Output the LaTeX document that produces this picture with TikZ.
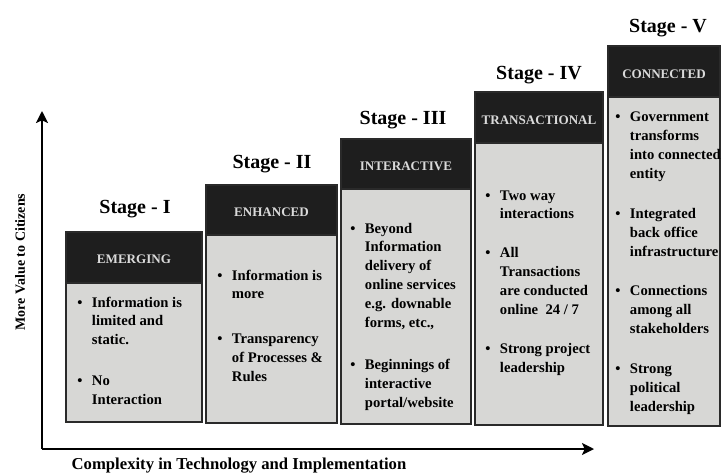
\documentclass[tikz,border=0pt]{standalone}
\usepackage{fontspec}
\setmainfont{Liberation Serif}
\usetikzlibrary{arrows.meta}
\definecolor{hdrfill}{HTML}{1E1E1E}
\definecolor{bodyfill}{HTML}{D7D7D5}
\definecolor{hdrtext}{HTML}{DADADA}
\definecolor{edgecol}{HTML}{2A2A2A}
\newcommand\bpt{\makebox[11pt][l]{\textbullet}}
\begin{document}
\begin{tikzpicture}[x=0.75pt,y=-0.75pt,
  hdrbox/.style={fill=hdrfill, draw=edgecol, line width=1pt},
  bodybox/.style={fill=bodyfill, draw=edgecol, line width=1.2pt},
  hdrtxt/.style={text=hdrtext, font=\fontsize{9.8}{11}\selectfont\bfseries, inner sep=0pt},
  stagetxt/.style={font=\fontsize{15}{17}\selectfont\bfseries, anchor=base, inner sep=0pt},
  bodytxt/.style={font=\fontsize{11}{14.2}\selectfont\bfseries, anchor=base west, inner sep=0pt, align=left},
  axisline/.style={line width=1.5pt, -{Stealth[length=9pt,width=9pt,inset=2pt]}},
  axlab/.style={font=\bfseries, inner sep=0pt}]
\useasboundingbox (0,0) rectangle (723,474);

% Stage I
\draw[bodybox] (66,283) rectangle (202,422);
\draw[hdrbox] (66,232) rectangle (202,283);
\node[hdrtxt] (h1) at (134,259) {EMERGING};
\node[stagetxt] (s1) at (135,213) {Stage - I};
\node[bodytxt] (b1) at (77,307) {\begin{tabular}[t]{@{}l@{}l@{}}
\bpt & Information is\\ & limited and\\ & static.\\[16.5pt]
\bpt & No\\ & Interaction\end{tabular}};

% Stage II
\draw[bodybox] (206,235) rectangle (337,423);
\draw[hdrbox] (206,185) rectangle (337,235);
\node[hdrtxt] (h2) at (271.5,212) {ENHANCED};
\node[stagetxt] (s2) at (272,168) {Stage - II};
\node[bodytxt] (b2) at (217,280) {\begin{tabular}[t]{@{}l@{}l@{}}
\bpt & Information is\\ & more\\[19pt]
\bpt & Transparency\\ & of Processes \&\\ & Rules\end{tabular}};

% Stage III
\draw[bodybox] (341,189) rectangle (471,424);
\draw[hdrbox] (341,139) rectangle (471,189);
\node[hdrtxt] (h3) at (406,166) {INTERACTIVE};
\node[stagetxt] (s3) at (403,125) {Stage - III};
\node[bodytxt] (b3) at (350,233) {\begin{tabular}[t]{@{}l@{}l@{}}
\bpt & Beyond\\ & Information\\ & delivery of\\ & online services\\ & e.g. downable\\ & forms, etc.,\\[17pt]
\bpt & Beginnings of\\ & interactive\\ & portal/website\end{tabular}};

% Stage IV
\draw[bodybox] (475,143) rectangle (603,425);
\draw[hdrbox] (475,92) rectangle (603,143);
\node[hdrtxt] (h4) at (539,120) {TRANSACTIONAL};
\node[stagetxt] (s4) at (539,80) {Stage - IV};
\node[bodytxt] (b4) at (485,200) {\begin{tabular}[t]{@{}l@{}l@{}}
\bpt & Two way\\ & interactions\\[15pt]
\bpt & All\\ & Transactions\\ & are conducted\\ & online~ 24 / 7\\[15pt]
\bpt & Strong project\\ & leadership\end{tabular}};

% Stage V
\draw[bodybox] (608,97) rectangle (720,426);
\draw[hdrbox] (608,46) rectangle (720,97);
\node[hdrtxt] (h5) at (664,74) {CONNECTED};
\node[stagetxt] (s5) at (668,33) {Stage - V};
\node[bodytxt] (b5) at (615,122) {\begin{tabular}[t]{@{}l@{}l@{}}
\bpt & Government\\ & transforms\\ & into connected\\ & entity\\[15.5pt]
\bpt & Integrated\\ & back office\\ & infrastructure\\[15.5pt]
\bpt & Connections\\ & among all\\ & stakeholders\\[15.5pt]
\bpt & Strong\\ & political\\ & leadership\end{tabular}};

% Axes
\coordinate (O) at (42,449);
\coordinate (ytip) at (42,111);
\coordinate (xtip) at (594,449);
\draw[axisline] (O) -- (ytip);
\draw[axisline] (O) -- (xtip);
\node[axlab, rotate=90, font=\fontsize{10.5}{12}\selectfont\bfseries] (ylab) at (20,262) {More Value to Citizens};
\node[axlab, anchor=base, font=\fontsize{12.5}{14}\selectfont\bfseries] (xlab) at (239,469) {Complexity in Technology and Implementation};
\end{tikzpicture}
\end{document}
